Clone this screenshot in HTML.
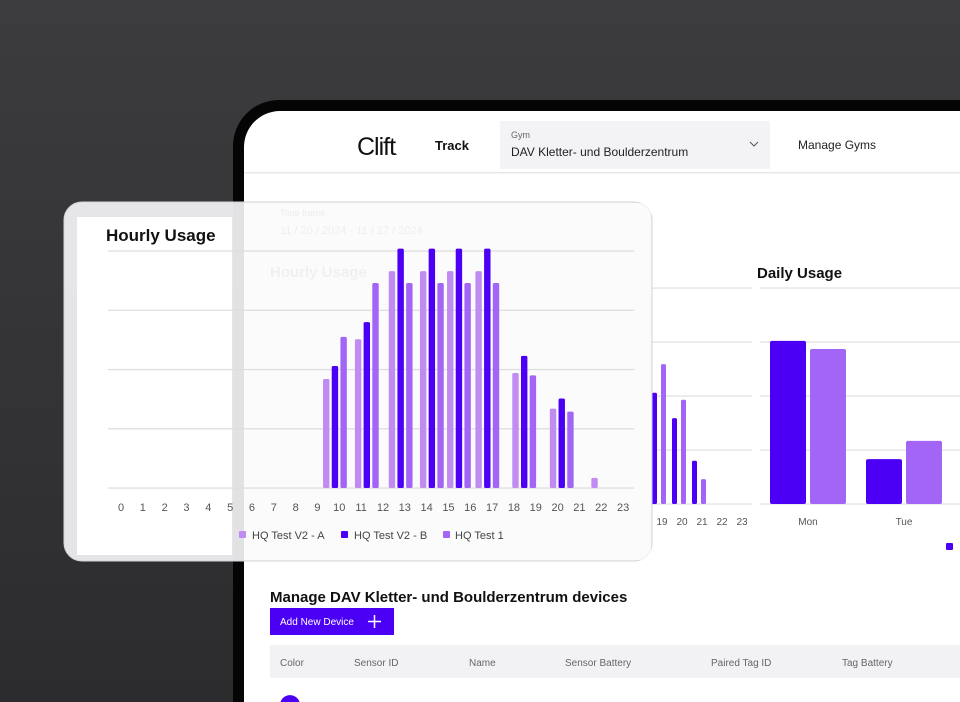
<!DOCTYPE html>
<html><head><meta charset="utf-8"><style>
html,body{margin:0;padding:0;width:960px;height:702px;overflow:hidden;background:#353537}
svg{display:block}
text{font-family:"Liberation Sans",sans-serif}
</style></head><body>
<svg id="s" width="960" height="702" viewBox="0 0 960 702">
<defs>
<linearGradient id="bg" x1="0" y1="0" x2="0" y2="1"><stop offset="0" stop-color="#3c3c3e"/><stop offset="1" stop-color="#2c2c2e"/></linearGradient>
</defs>
<rect width="960" height="702" fill="url(#bg)"/>
<!-- tablet -->
<path d="M233 702 V146 A46 46 0 0 1 279 100 H960 V702 Z" fill="#050505"/>
<path d="M244 702 V147 A36 36 0 0 1 280 111 H960 V702 Z" fill="#ffffff"/>
<g>
<text x="357" y="155" font-size="25" fill="#111" letter-spacing="-1">Clift<tspan font-size="8">.</tspan></text>
<text x="435" y="150" font-size="13" font-weight="bold" fill="#111">Track</text>
<rect x="500" y="121" width="270" height="48" fill="#f3f3f5"/>
<text x="511" y="138" font-size="9" fill="#666">Gym</text>
<text x="511" y="156" font-size="12" fill="#222">DAV Kletter- und Boulderzentrum</text>
<path d="M750 142 l4 4 l4 -4" fill="none" stroke="#555" stroke-width="1"/>
<text x="798" y="149" font-size="12" fill="#222">Manage Gyms</text>
<rect x="244" y="172" width="716" height="1.5" fill="#e8e8ea"/>
</g>
<!-- back charts -->
<g id="backGrid"></g>
<text x="757" y="278" font-size="15" font-weight="bold" fill="#111">Daily Usage</text>
<g id="backBars"></g>
<g id="daily"></g>
<rect x="946" y="543" width="7" height="7" rx="1" fill="#4b00f5"/>
<!-- devices -->
<text x="270" y="602" font-size="15" font-weight="bold" fill="#111">Manage DAV Kletter- und Boulderzentrum devices</text>
<rect x="270" y="608" width="124" height="27" fill="#4b00f5"/>
<text x="280" y="625" font-size="10" fill="#fff">Add New Device</text>
<path d="M368 621.5 h13 M374.5 615 v13" stroke="#fff" stroke-width="1.5"/>
<rect x="270" y="645" width="690" height="33" fill="#f2f2f4"/>
<g font-size="10" fill="#666">
<text x="280" y="666">Color</text>
<text x="354" y="666">Sensor ID</text>
<text x="469" y="666">Name</text>
<text x="565" y="666">Sensor Battery</text>
<text x="711" y="666">Paired Tag ID</text>
<text x="842" y="666">Tag Battery</text>
</g>
<path d="M280.5 702 A10 10 0 0 1 299.5 702 Z" fill="#4b00f5"/>
<!-- overlay card -->
<rect x="64" y="202" width="588" height="359" rx="18" fill="rgba(243,243,245,0.93)" stroke="#d4d4d6" stroke-width="1"/>
<rect x="77" y="217" width="155" height="338" fill="#ffffff"/>
<rect x="244" y="203" width="407" height="357" fill="rgba(255,255,255,0.6)"/>
<g opacity="0.5">
<text x="280" y="216" font-size="9" fill="#ddd">Time frame</text>
<text x="280" y="234" font-size="11" fill="#e2e2e2">11 / 20 / 2024  -  11 / 27 / 2024</text>
<text x="270" y="277" font-size="15" font-weight="bold" fill="#e6e6e6">Hourly Usage</text>
</g>
<text x="106" y="241" font-size="17" font-weight="bold" fill="#111">Hourly Usage</text>
<g id="main"></g>
<g font-size="11" fill="#444">
<rect x="239" y="531" width="7" height="7" rx="1" fill="#c08cf2"/>
<text x="252" y="539">HQ Test V2 - A</text>
<rect x="341" y="531" width="7" height="7" rx="1" fill="#4b00f5"/>
<text x="354" y="539">HQ Test V2 - B</text>
<rect x="443" y="531" width="7" height="7" rx="1" fill="#a265f5"/>
<text x="455" y="539">HQ Test 1</text>
</g>
</svg>
<script>
// main hourly chart data
const hourTicks = ["0","1","2","3","4","5","6","7","8","9","10","11","12","13","14","15","16","17","18","19","20","21","22","23"];
const groupHours = [9.8, 11.26, 12.81, 14.24, 15.48, 16.78, 18.47, 20.19, 22.09];
const seriesA = [18.4, 25.1, 36.6, 36.6, 36.6, 36.6, 19.4, 13.4, 1.7];
const seriesB = [20.6, 28.0, 40.4, 40.4, 40.4, 40.4, 22.3, 15.1, 0];
const seriesT1 = [25.5, 34.6, 34.6, 34.6, 34.6, 34.6, 19.0, 12.9, 0];
const yTicks = [0, 10, 20, 30, 40];
// background hourly (partially visible) data
const backHours = [19, 20, 21];
const backB = [2.06, 1.59, 0.80];
const backT1 = [2.59, 1.93, 0.46];
const backTicks = ["19","20","21","22","23"];
// daily chart data
const days = ["Mon", "Tue"];
const dailyB = [3.02, 0.83];
const dailyT1 = [2.87, 1.17];

const NS = "http://www.w3.org/2000/svg";
function mk(tag, attrs, parent) {
  const e = document.createElementNS(NS, tag);
  for (const k in attrs) e.setAttribute(k, attrs[k]);
  parent.appendChild(e);
  return e;
}
const cA = "#c08cf2", cB = "#4b00f5", cT = "#a265f5";

// main chart axes
const mx = h => 121 + h * 21.83;
const my = v => 488 - v * 5.925;
const main = document.getElementById("main");
yTicks.forEach(t => {
  const l = mk("rect", {x: 108, y: my(t) - 0.6, width: 526, height: 1.3, fill: "#dedede"}, main);
  
  
});
hourTicks.forEach((t, i) => {
  const e = mk("text", {x: mx(i), y: 511, "font-size": 11, fill: "#555", "text-anchor": "middle"}, main);
  e.textContent = t;
  
  
});
const bw = 6.4, gap = 8.7;
groupHours.forEach((h, i) => {
  const cx = mx(h);
  [[seriesA, cA, -1, 'a'], [seriesB, cB, 0, 'b'], [seriesT1, cT, 1, 't1']].forEach(([s, c, o, n]) => {
    const v = s[i];
    if (v <= 0) return;
    const r = mk("rect", {x: cx + o * gap - bw / 2, y: my(v), width: bw, height: my(0) - my(v), rx: 1.5, fill: c}, main);
    
    
  });
});

// background hourly
const bx = h => 282 + h * 20;
const by = v => 504 - v * 54;
const bg = document.getElementById("backGrid");
[0, 1, 2, 3, 4].forEach(t => {
  const l = mk("rect", {x: 652, y: by(t) - 0.6, width: 100, height: 1.3, fill: "#e2e2e2"}, bg);
  
  
  const l2 = mk("rect", {x: 760, y: by(t) - 0.6, width: 200, height: 1.3, fill: "#e2e2e2"}, bg);
  
  
});
const bb = document.getElementById("backBars");
backTicks.forEach((t, i) => {
  const e = mk("text", {x: bx(19 + i), y: 525, "font-size": 10, fill: "#555", "text-anchor": "middle"}, bb);
  e.textContent = t;
  
  
});
backHours.forEach((h, i) => {
  const cx = bx(h) - 4;
  const r1 = mk("rect", {x: cx - 6, y: by(backB[i]), width: 5, height: by(0) - by(backB[i]), rx: 1.5, fill: cB}, bb);
  
  
  const r2 = mk("rect", {x: cx + 3, y: by(backT1[i]), width: 5, height: by(0) - by(backT1[i]), rx: 1.5, fill: cT}, bb);
  
  
});

// daily
const dg = document.getElementById("daily");
const dx = i => 808 + i * 96;
days.forEach((d, i) => {
  const r1 = mk("rect", {x: dx(i) - 38, y: by(dailyB[i]), width: 36, height: by(0) - by(dailyB[i]), rx: 2, fill: cB}, dg);
  
  
  const r2 = mk("rect", {x: dx(i) + 2, y: by(dailyT1[i]), width: 36, height: by(0) - by(dailyT1[i]), rx: 2, fill: cT}, dg);
  
  
  const t = mk("text", {x: dx(i), y: 525, "font-size": 10, fill: "#555", "text-anchor": "middle"}, dg);
  t.textContent = d;
  
  
});
</script>
</body></html>
